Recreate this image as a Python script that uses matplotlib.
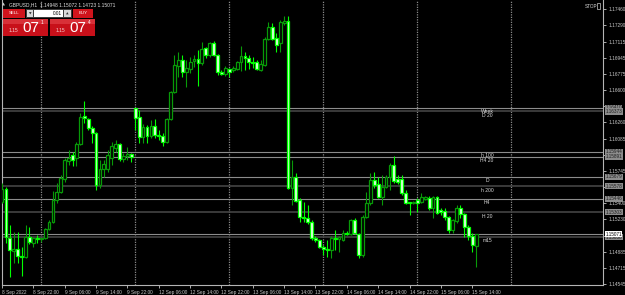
import matplotlib.pyplot as plt
from matplotlib.patches import Rectangle

# GBPUSD H1 candles, bar 0 = 8 Sep 2022 14:00
opens = [1.15414, 1.15552, 1.15032, 1.14895, 1.14916, 1.14841, 1.14831, 1.15043, 1.14979, 1.15032,
         1.15022, 1.15032, 1.15128, 1.15202, 1.15435, 1.15520, 1.15658, 1.15849, 1.15912, 1.15880,
         1.16029, 1.16325, 1.16294, 1.16198, 1.16145, 1.15594, 1.15764, 1.15764, 1.15880, 1.15986,
         1.16029, 1.15870, 1.15901, 1.15923, 1.16410, 1.16315, 1.16103, 1.16209, 1.16113, 1.16219,
         1.16124, 1.16113, 1.16050, 1.16294, 1.16580, 1.16855, 1.16919, 1.16792, 1.16824, 1.16908,
         1.16930, 1.16887, 1.17046, 1.16972, 1.17099, 1.16972, 1.16792, 1.16771, 1.16824, 1.16813,
         1.16824, 1.16898, 1.16961, 1.16940, 1.16898, 1.16898, 1.16813, 1.16866, 1.17142, 1.17269,
         1.17152, 1.17099, 1.17311, 1.17332, 1.15562, 1.15679, 1.15435, 1.15253, 1.15244, 1.15202,
         1.15032, 1.15011, 1.14937, 1.14916, 1.14905, 1.15032, 1.15022, 1.15011, 1.15085, 1.15075,
         1.15223, 1.15075, 1.14852, 1.15253, 1.15404, 1.15647, 1.15605, 1.15467, 1.15573, 1.15679,
         1.15806, 1.15658, 1.15658, 1.15509, 1.15414, 1.15404, 1.15435, 1.15414, 1.15446, 1.15457,
         1.15351, 1.15467, 1.15329, 1.15319, 1.15253, 1.15117, 1.15212, 1.15351, 1.15287, 1.15149,
         1.15053, 1.14948]
highs = [1.15615, 1.15573, 1.15170, 1.15096, 1.15096, 1.14937, 1.15170, 1.15149, 1.15043, 1.15064,
         1.15032, 1.15138, 1.15223, 1.15531, 1.15615, 1.15700, 1.15880, 1.15965, 1.15944, 1.16050,
         1.16357, 1.16484, 1.16304, 1.16219, 1.16156, 1.15859, 1.15859, 1.15965, 1.16050, 1.16071,
         1.16039, 1.15933, 1.15997, 1.15933, 1.16410, 1.16389, 1.16241, 1.16230, 1.16283, 1.16294,
         1.16177, 1.16145, 1.16304, 1.16590, 1.16972, 1.17004, 1.16972, 1.16919, 1.16951, 1.16972,
         1.17025, 1.17110, 1.17057, 1.17110, 1.17120, 1.16982, 1.16813, 1.16855, 1.16834, 1.16855,
         1.16908, 1.17067, 1.17004, 1.16972, 1.16951, 1.16919, 1.16919, 1.17163, 1.17322, 1.17311,
         1.17205, 1.17343, 1.17385, 1.17385, 1.15859, 1.15721, 1.15457, 1.15414, 1.15382, 1.15223,
         1.15053, 1.15022, 1.14958, 1.15011, 1.15053, 1.15117, 1.15053, 1.15117, 1.15106, 1.15234,
         1.15244, 1.15085, 1.15276, 1.15520, 1.15721, 1.15732, 1.15679, 1.15700, 1.15700, 1.15827,
         1.15901, 1.15700, 1.15700, 1.15541, 1.15414, 1.15425, 1.15457, 1.15509, 1.15478, 1.15478,
         1.15478, 1.15478, 1.15351, 1.15351, 1.15265, 1.15234, 1.15382, 1.15382, 1.15297, 1.15170,
         1.15085, 1.15072]
lows = [1.15404, 1.14979, 1.14619, 1.14767, 1.14767, 1.14629, 1.14820, 1.14969, 1.14937, 1.14979,
        1.14990, 1.15022, 1.15117, 1.15195, 1.15404, 1.15509, 1.15626, 1.15806, 1.15796, 1.15796,
        1.16018, 1.16251, 1.16177, 1.16039, 1.15541, 1.15562, 1.15679, 1.15732, 1.15806, 1.15944,
        1.15849, 1.15838, 1.15859, 1.15838, 1.16177, 1.16039, 1.16039, 1.16039, 1.16092, 1.16092,
        1.16071, 1.16007, 1.16039, 1.16283, 1.16569, 1.16739, 1.16739, 1.16633, 1.16781, 1.16845,
        1.16643, 1.16866, 1.16940, 1.16951, 1.16961, 1.16760, 1.16760, 1.16749, 1.16739, 1.16792,
        1.16813, 1.16802, 1.16813, 1.16824, 1.16834, 1.16813, 1.16802, 1.16855, 1.17131, 1.17131,
        1.17004, 1.17004, 1.17290, 1.15552, 1.15382, 1.15414, 1.15202, 1.15202, 1.15181, 1.15011,
        1.14990, 1.14926, 1.14852, 1.14831, 1.14820, 1.14905, 1.14884, 1.15001, 1.15064, 1.15064,
        1.15075, 1.14820, 1.14831, 1.15244, 1.15382, 1.15562, 1.15457, 1.15382, 1.15562, 1.15541,
        1.15615, 1.15605, 1.15488, 1.15393, 1.15276, 1.15393, 1.15308, 1.15404, 1.15435, 1.15329,
        1.15244, 1.15287, 1.15276, 1.15223, 1.15085, 1.15085, 1.15191, 1.15244, 1.15043, 1.15011,
        1.14884, 1.14723]
closes = [1.15552, 1.15043, 1.14905, 1.14916, 1.14841, 1.14831, 1.15043, 1.14990, 1.15032, 1.15022,
          1.15027, 1.15128, 1.15202, 1.15435, 1.15520, 1.15668, 1.15859, 1.15880, 1.15859, 1.16029,
          1.16315, 1.16304, 1.16198, 1.16145, 1.15594, 1.15764, 1.15817, 1.15912, 1.16007, 1.16029,
          1.15870, 1.15901, 1.15923, 1.15891, 1.16304, 1.16103, 1.16209, 1.16113, 1.16219, 1.16124,
          1.16113, 1.16050, 1.16294, 1.16580, 1.16866, 1.16919, 1.16792, 1.16834, 1.16898, 1.16930,
          1.16887, 1.17036, 1.16972, 1.17099, 1.16972, 1.16792, 1.16771, 1.16834, 1.16792, 1.16834,
          1.16898, 1.16961, 1.16940, 1.16898, 1.16887, 1.16824, 1.16877, 1.17142, 1.17269, 1.17142,
          1.17078, 1.17322, 1.17332, 1.15562, 1.15679, 1.15425, 1.15253, 1.15244, 1.15202, 1.15032,
          1.15011, 1.14937, 1.14916, 1.14905, 1.15032, 1.15022, 1.15043, 1.15085, 1.15075, 1.15223,
          1.15085, 1.14852, 1.15253, 1.15404, 1.15647, 1.15594, 1.15467, 1.15573, 1.15679, 1.15806,
          1.15636, 1.15626, 1.15509, 1.15404, 1.15404, 1.15414, 1.15404, 1.15467, 1.15467, 1.15351,
          1.15467, 1.15297, 1.15308, 1.15253, 1.15117, 1.15223, 1.15351, 1.15287, 1.15149, 1.15053,
          1.14958, 1.15071]

time_labels = ["8 Sep 2022", "8 Sep 22:00", "9 Sep 06:00", "9 Sep 14:00", "9 Sep 22:00",
               "12 Sep 06:00", "12 Sep 14:00", "12 Sep 22:00", "13 Sep 06:00", "13 Sep 14:00",
               "13 Sep 22:00", "14 Sep 06:00", "14 Sep 14:00", "14 Sep 22:00", "15 Sep 06:00",
               "15 Sep 14:00"]
time_label_bars = [0, 8, 16, 24, 32, 40, 48, 56, 64, 72, 80, 88, 96, 104, 112, 120]
day_start_bars = [10, 34, 58, 82, 106, 130]

price_ticks = [1.17460, 1.17290, 1.17115, 1.16945, 1.16775, 1.16600, 1.16430, 1.16260, 1.16085,
               1.15915, 1.15745, 1.15570, 1.15400, 1.15230, 1.15055, 1.14885, 1.14715, 1.14545]

level_names = ["Week", "D 20", "h 100", "H4 20", "D", "h 200", "H4", "H 20", "m15"]
level_prices = [1.16410, 1.16373, 1.15944, 1.15891, 1.15679, 1.15578, 1.15446, 1.15303, 1.15038]
level_dark = [False, True, False, False, False, True, False, True, True]
bid = 1.15071

W, H = 625, 295
FONT = "Liberation Sans"
fig = plt.figure(figsize=(W / 100, H / 100), dpi=100, facecolor="black")
ax = fig.add_axes([2 / W, 10.5 / H, 601 / W, 284.5 / H], facecolor="black")


def px(x, y):
    return x / W, 1 - y / H


# day separators
for b in day_start_bars:
    ax.axvline(b, color="#8a8a8a", lw=0.9, ls=(0, (1, 1)), zorder=1)

# level lines
for name, p, dark in zip(level_names, level_prices, level_dark):
    ax.axhline(p, color="#444444" if dark else "#8c8c8c", lw=1.2 if dark else 0.8, zorder=1)
    ax.text(123.8, p - 0.00012, name, color="#d8d8d8", fontsize=3.6, ha="center", va="top",
            family=FONT, zorder=2)
ax.axhline(bid, color="#8c8c8c", lw=0.8, zorder=1)

# candles
for i in range(len(opens)):
    o, h, l, c = opens[i], highs[i], lows[i], closes[i]
    up = c >= o
    edge = "#089a08" if up else "#00ff00"
    face = "black" if up else "#e8ffe8"
    ax.vlines(i, l, h, color=edge, lw=0.8, zorder=3)
    ax.bar(i, max(abs(c - o), 0.000001), bottom=min(o, c), width=0.72,
           facecolor=face, edgecolor=edge, lw=0.9, zorder=4)

ax.set_xlim(0.05, 0.05 + 601 / 3.92)
ax.set_ylim(1.14538, 1.175554)

ax.spines["top"].set_visible(False)
for s in ["left", "right", "bottom"]:
    ax.spines[s].set_color("#b4b4b4")
    ax.spines[s].set_linewidth(0.8)

# tick labels that sit under a price box are hidden in the original
covered = level_prices + [bid]
ylabels = []
for t in price_ticks:
    hidden = any(abs(t - p) < 0.00035 for p in covered)
    ylabels.append("" if hidden else f"{t:.5f}")

ax.yaxis.tick_right()
ax.set_yticks(price_ticks)
ax.set_yticklabels(ylabels, family=FONT)
ax.tick_params(axis="y", colors="#c8c8c8", labelsize=3.4, length=2.5, width=0.6, pad=1.2)
ax.set_xticks(time_label_bars)
ax.set_xticklabels(time_labels, family=FONT, ha="left")
ax.tick_params(axis="x", colors="#c8c8c8", labelsize=3.4, length=2.5, width=0.6, pad=1.5)

# price boxes on the right scale
ytrans = ax.get_yaxis_transform()
for p, dark in zip(level_prices, level_dark):
    ax.text(1.004, p, f"{p:.5f}", transform=ytrans, fontsize=3.3, color="#1e1e1e",
            va="center", ha="left", family=FONT, clip_on=False, zorder=6,
            bbox=dict(facecolor="#8c8c8c", edgecolor="none", pad=0.4))
ax.text(1.004, bid, f"{bid:.5f}", transform=ytrans, fontsize=3.3, color="black",
        va="center", ha="left", family=FONT, clip_on=False, zorder=7,
        bbox=dict(facecolor="white", edgecolor="none", pad=0.4))

# header text
fig.text(*px(2, 5), "\u25b2", color="#c8c8c8", fontsize=2.8, va="center")
fig.text(*px(9, 5), "GBPUSD,H1  1.14948 1.15072 1.14723 1.15071", color="#e0e0e0",
         fontsize=3.5, va="center", family=FONT)
fig.text(*px(585, 6), "STOP", color="#e0e0e0", fontsize=3.3, va="center", family=FONT)
fig.add_artist(Rectangle(px(597, 9), 2.5 / W, 6 / H, transform=fig.transFigure,
                         facecolor="none", edgecolor="#c8c8c8", lw=0.5))


def box(x0, y0, x1, y1, color):
    fig.add_artist(Rectangle(px(x0, y1), (x1 - x0) / W, (y1 - y0) / H,
                             transform=fig.transFigure, facecolor=color, edgecolor="none"))


# one-click trading panel
box(3, 9, 25, 18, "#d0141c")
fig.text(*px(14, 13.5), "SELL", color="white", fontsize=3.2, ha="center", va="center", family=FONT)
box(26, 9, 72, 18, "#3a3a3a")
box(27, 10, 33, 17, "#d8d8d8")
fig.text(*px(30, 13.5), "\u25bc", color="#303030", fontsize=2.4, ha="center", va="center")
box(34, 10, 63, 17, "white")
fig.text(*px(62, 13.5), "0.01", color="black", fontsize=3.4, ha="right", va="center", family=FONT)
box(64, 10, 71, 17, "#d8d8d8")
fig.text(*px(67.5, 13.5), "\u25b2", color="#303030", fontsize=2.4, ha="center", va="center")
box(73, 9, 93, 18, "#d0141c")
fig.text(*px(83, 13.5), "BUY", color="white", fontsize=3.2, ha="center", va="center", family=FONT)

for x0, sup in [(3, "1"), (50, "4")]:
    box(x0, 19, x0 + 45, 36, "#c8101a")
    box(x0, 19, x0 + 45, 24, "#d83038")
    fig.text(*px(x0 + 6, 31), "1.15", color="#f4d0d0", fontsize=3.6, va="center", family=FONT)
    fig.text(*px(x0 + 19, 28), "07", color="white", fontsize=11, va="center", family=FONT)
    fig.text(*px(x0 + 38, 22.5), sup, color="white", fontsize=3.4, va="center", family=FONT)

fig.savefig("out.png", dpi=100, facecolor="black")
